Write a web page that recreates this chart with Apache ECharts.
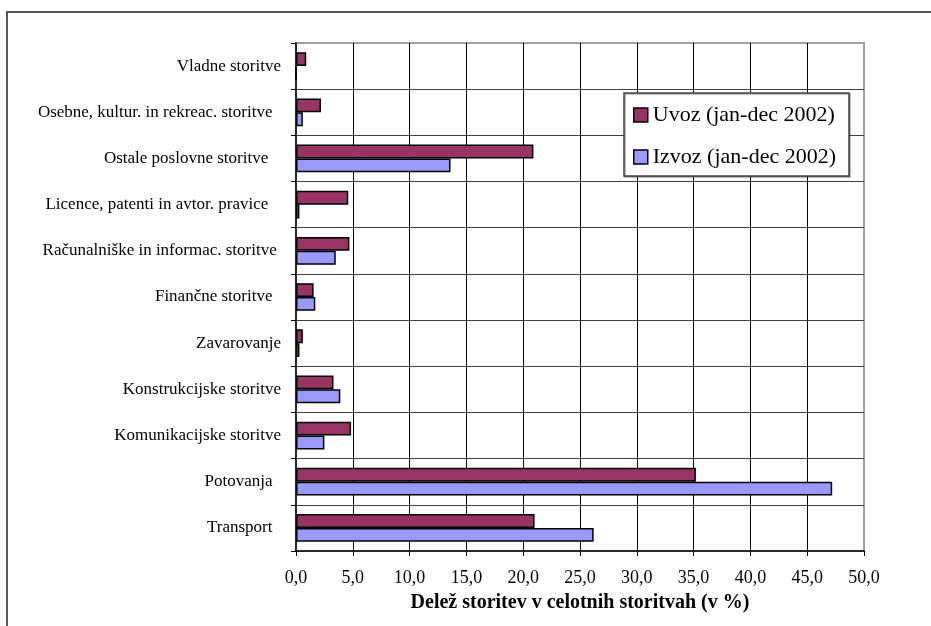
<!DOCTYPE html>
<html>
<head>
<meta charset="utf-8">
<script src="https://cdn.jsdelivr.net/npm/echarts@6/dist/echarts.min.js"></script>
<style>
html,body{margin:0;padding:0;background:#fff;}
#chart{width:931px;height:626px;}
</style>
</head>
<body>
<div id="chart"></div>
<script>
// Data (bottom to top as drawn on the category axis)
const categories = [
  'Transport  ',
  'Potovanja  ',
  'Komunikacijske storitve',
  'Konstrukcijske storitve',
  'Zavarovanje',
  'Finančne storitve  ',
  'Računalniške in informac. storitve ',
  'Licence, patenti in avtor. pravice   ',
  'Ostale poslovne storitve   ',
  'Osebne, kultur. in rekreac. storitve  ',
  'Vladne storitve'
];
const seriesNames = ['Uvoz (jan-dec 2002)', 'Izvoz (jan-dec 2002)'];
const uvoz  = [21.0, 35.2, 4.85, 3.3, 0.6, 1.55, 4.7, 4.6, 20.9, 2.2, 0.9];
const izvoz = [26.2, 47.2, 2.5, 3.9, 0.3, 1.7, 3.5, 0.3, 13.6, 0.6, 0.0];
const xTicks = { min: 0, max: 50, interval: 5 };
const xAxisTitle = 'Delež storitev v celotnih storitvah (v %)';

const serif = "'Liberation Serif', 'Times New Roman', 'DejaVu Serif', serif";

const chart = echarts.init(document.getElementById('chart'), null, { renderer: 'canvas' });
chart.setOption({
  animation: false,
  backgroundColor: '#fff',
  graphic: [{
    type: 'rect',
    shape: { x: 7, y: 12, width: 1000, height: 1000 },
    style: { fill: 'none', stroke: '#222', lineWidth: 1.5 },
    silent: true,
    z: -10
  }],
  grid: {
    left: 296, right: 67, top: 43, bottom: 75,
    show: true,
    borderColor: '#a0a0a0',
    borderWidth: 2,
    backgroundColor: '#fff'
  },
  legend: {
    orient: 'vertical',
    left: 624,
    top: 93,
    data: seriesNames,
    icon: 'rect',
    itemWidth: 14,
    itemHeight: 14,
    itemGap: 18,
    padding: [10, 13, 7, 9],
    backgroundColor: '#fff',
    borderColor: '#444',
    borderWidth: 1.5,
    shadowColor: 'rgba(0,0,0,0.35)',
    shadowOffsetX: 1,
    shadowOffsetY: 1,
    textStyle: { fontFamily: serif, fontSize: 22, color: '#000', lineHeight: 24 },
    itemStyle: { borderColor: '#000', borderWidth: 1.5 }
  },
  xAxis: {
    type: 'value',
    min: xTicks.min, max: xTicks.max, interval: xTicks.interval,
    name: xAxisTitle,
    nameLocation: 'middle',
    nameGap: 42,
    nameTextStyle: { fontFamily: serif, fontSize: 20, fontWeight: 'bold', color: '#000' },
    axisLine: { show: true, lineStyle: { color: '#000', width: 1.5 } },
    axisTick: { show: true, length: 5, lineStyle: { color: '#000', width: 1 } },
    axisLabel: {
      margin: 18,
      fontFamily: serif, fontSize: 18, color: '#000',
      formatter: v => v.toFixed(1).replace('.', ',')
    },
    splitLine: { show: true, showMinLine: false, showMaxLine: false, lineStyle: { color: '#000', width: 1 } }
  },
  yAxis: {
    type: 'category',
    data: categories,
    axisLine: { show: true, lineStyle: { color: '#000', width: 1.5 } },
    axisTick: { show: true, length: 5, lineStyle: { color: '#000', width: 1 } },
    axisLabel: { margin: 15, fontFamily: serif, fontSize: 17, color: '#000' },
    splitLine: { show: true, showMinLine: false, showMaxLine: false, lineStyle: { color: '#404040', width: 1 } }
  },
  series: [
    {
      name: seriesNames[0], type: 'bar', data: uvoz,
      barGap: '0%', barCategoryGap: '40%',
      itemStyle: { color: '#993366', borderColor: '#000', borderWidth: 1.5 }
    },
    {
      name: seriesNames[1], type: 'bar', data: izvoz,
      barGap: '0%', barCategoryGap: '40%',
      itemStyle: { color: '#9999FF', borderColor: '#000', borderWidth: 1.5 }
    }
  ]
});
</script>
</body>
</html>
